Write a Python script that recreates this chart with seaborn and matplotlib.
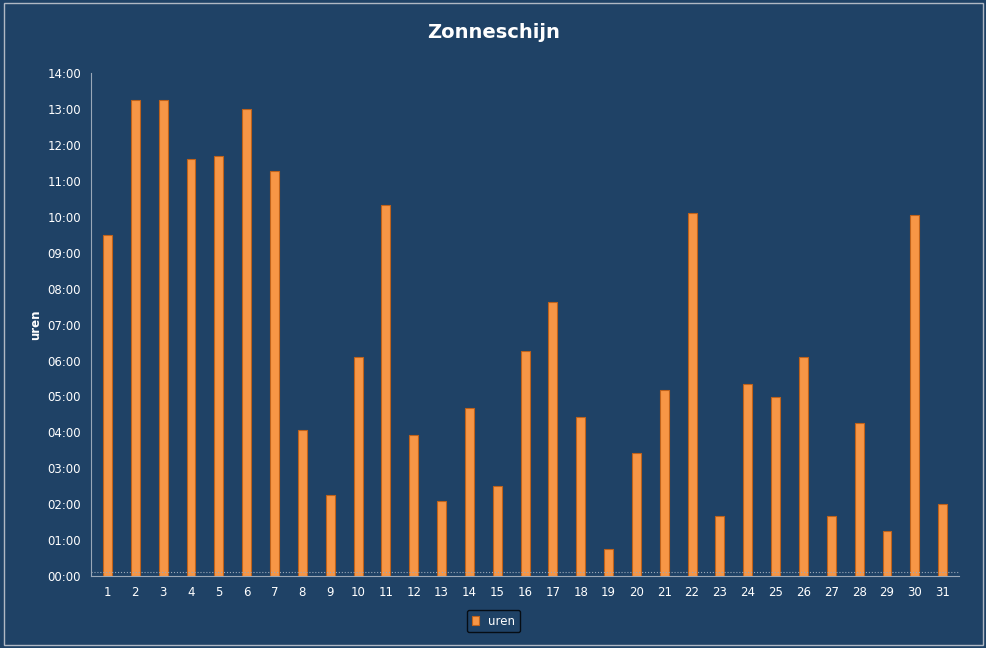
import numpy as np
import pandas as pd
import matplotlib
matplotlib.use("Agg")
import matplotlib.pyplot as plt
import seaborn as sns

# daily sunshine hours
days = list(range(1, 32))
uren = [9.5, 13.25, 13.25, 11.6, 11.7, 13.0, 11.27, 4.06, 2.25, 6.1,
        10.33, 3.92, 2.09, 4.68, 2.5, 6.26, 7.63, 4.43, 0.75, 3.42,
        5.18, 10.1, 1.67, 5.34, 4.98, 6.1, 1.67, 4.26, 1.25, 10.05, 2.0]
ytick_labels = ["%02d:00" % h for h in range(15)]

df = pd.DataFrame({"dag": [str(d) for d in days], "uren": uren})

bg = "#1f4266"
sns.set_style("white")
fig = plt.figure(figsize=(9.87, 6.48), dpi=100, facecolor=bg)
ax = fig.add_axes([0.092, 0.111, 0.88, 0.776])
ax.set_facecolor(bg)

sns.barplot(data=df, x="dag", y="uren", color="#f79646", width=0.32,
            saturation=1, edgecolor="#c0621a", linewidth=0.8, ax=ax, label="uren")
ax.get_legend().remove() if ax.get_legend() else None

ax.set_ylim(0, 14)
ax.set_yticks(range(15))
ax.set_yticklabels(ytick_labels)
ax.set_xlim(-0.6, 30.6)
ax.tick_params(colors="white", labelsize=8.5)
ax.set_xlabel("")
ax.set_ylabel("uren", color="white", fontsize=8.5, fontweight="bold")
for s in ["top", "right"]:
    ax.spines[s].set_visible(False)
for s in ["left", "bottom"]:
    ax.spines[s].set_color("#9aa8b8")
ax.axhline(0.1, color="#9aa8b8", linestyle=":", linewidth=0.8)

# thin frame around the whole chart
fig.patches.append(plt.Rectangle((0.004, 0.004), 0.992, 0.992, transform=fig.transFigure,
                                 fill=False, edgecolor="#b0b8c4", linewidth=1))

fig.suptitle("Zonneschijn", color="white", fontsize=14, fontweight="bold", y=0.965)
leg = fig.legend(*ax.get_legend_handles_labels(), loc="lower center",
                 bbox_to_anchor=(0.5, 0.015), frameon=True,
                 fontsize=8.5, handlelength=0.6, borderpad=0.4)
leg.get_frame().set_facecolor(bg)
leg.get_frame().set_edgecolor("black")
for t in leg.get_texts():
    t.set_color("white")

fig.savefig("out.png", facecolor=bg)
